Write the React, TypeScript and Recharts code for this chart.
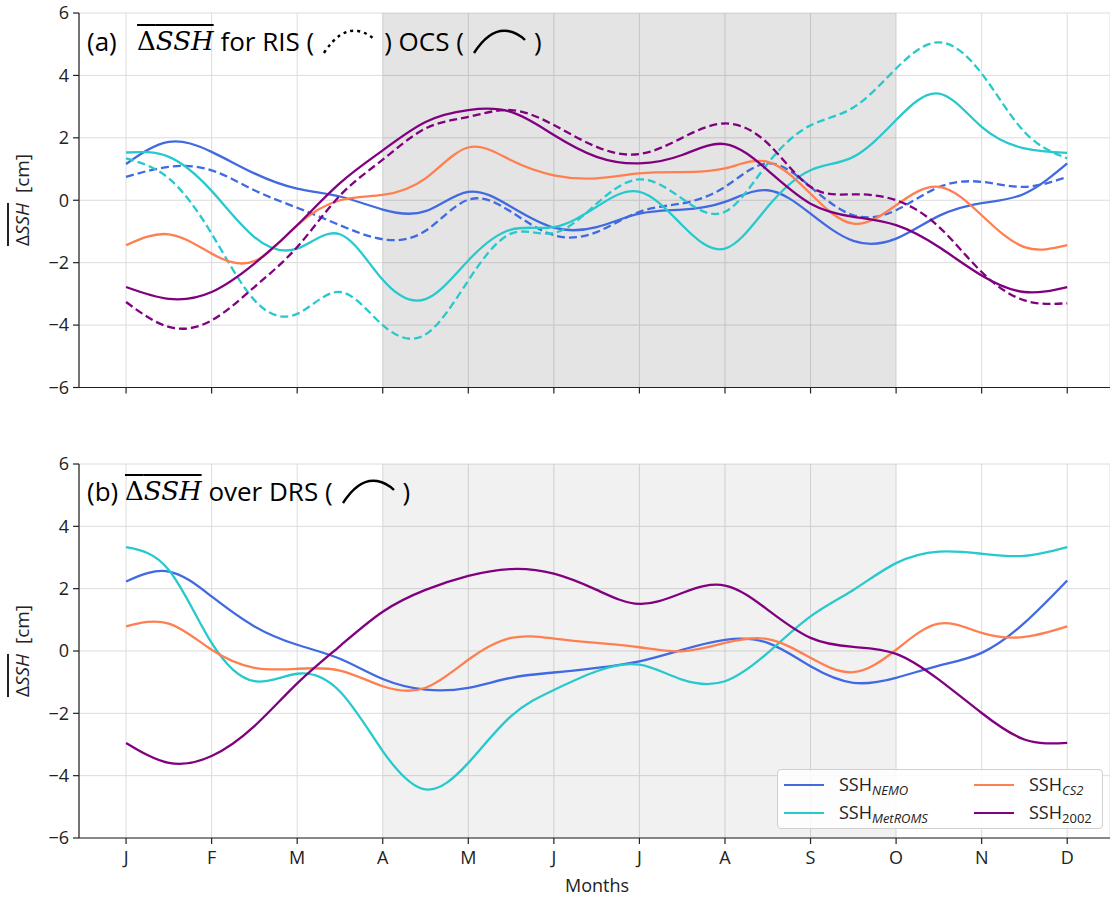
import React from 'react';
import { LineChart, Line, XAxis, YAxis, CartesianGrid, ReferenceArea } from 'recharts';

const months = ['J', 'F', 'M', 'A', 'M', 'J', 'J', 'A', 'S', 'O', 'N', 'D'];
const monthTicks = [0, 1, 2, 3, 4, 5, 6, 7, 8, 9, 10, 11];
const yTicks = [-6, -4, -2, 0, 2, 4, 6];
// sample positions, in months from January
const steps = [0, 0.5, 1, 1.5, 2, 2.5, 3, 3.5, 4, 4.5, 5, 5.5, 6, 6.5, 7, 7.5, 8, 8.5, 9, 9.5, 10, 10.5, 11];

// panel (a): OCS (solid) and RIS (dashed)
const nemoOcs = [1.16, 1.87, 1.55, 0.86, 0.37, 0.12, -0.3, -0.35, 0.27, -0.21, -0.88, -0.86, -0.43, -0.3, -0.05, 0.32, -0.43, -1.3, -1.23, -0.5, -0.09, 0.21, 1.18];
const nemoRis = [0.75, 1.07, 0.96, 0.32, -0.24, -0.8, -1.25, -0.98, 0.02, -0.37, -1.12, -1.02, -0.37, -0.1, 0.43, 1.18, 0.43, -0.48, -0.32, 0.42, 0.59, 0.43, 0.75];
const metromsOcs = [1.53, 1.39, 0.3, -1.18, -1.55, -1.09, -2.55, -3.17, -1.93, -0.94, -0.86, -0.21, 0.27, -0.8, -1.55, -0.21, 0.96, 1.39, 2.57, 3.42, 2.35, 1.66, 1.52];
const metromsRis = [1.34, 0.7, -1.07, -3.2, -3.64, -2.94, -4.0, -4.3, -2.57, -1.07, -1.05, -0.11, 0.67, 0.05, -0.37, 1.18, 2.4, 2.97, 4.22, 5.06, 4.06, 2.19, 1.34];
const cs2Ocs = [-1.44, -1.09, -1.71, -1.95, -0.8, 0.0, 0.17, 0.7, 1.69, 1.28, 0.8, 0.7, 0.86, 0.9, 1.02, 1.23, 0.21, -0.75, -0.16, 0.43, -0.48, -1.5, -1.44];
const y2002Ocs = [-2.78, -3.16, -2.94, -2.03, -0.8, 0.55, 1.6, 2.51, 2.89, 2.83, 2.09, 1.39, 1.18, 1.45, 1.8, 0.96, -0.11, -0.53, -0.8, -1.5, -2.41, -2.94, -2.78];
const y2002Ris = [-3.26, -4.06, -3.85, -2.78, -1.5, 0.15, 1.3, 2.3, 2.67, 2.89, 2.41, 1.71, 1.48, 2.0, 2.46, 1.82, 0.43, 0.19, 0.0, -0.85, -2.3, -3.21, -3.3];

// panel (b): DRS
const nemoDrs = [2.23, 2.55, 1.75, 0.79, 0.2, -0.25, -0.9, -1.24, -1.18, -0.86, -0.69, -0.54, -0.33, 0.04, 0.36, 0.26, -0.49, -1.02, -0.86, -0.47, -0.06, 0.9, 2.26];
const metromsDrs = [3.33, 2.6, 0.26, -0.97, -0.73, -1.3, -3.21, -4.44, -3.59, -2.09, -1.25, -0.65, -0.44, -0.92, -0.97, -0.06, 1.11, 1.96, 2.82, 3.19, 3.12, 3.05, 3.33];
const cs2Drs = [0.79, 0.88, 0.04, -0.54, -0.57, -0.63, -1.13, -1.18, -0.28, 0.42, 0.4, 0.26, 0.12, -0.01, 0.26, 0.38, -0.22, -0.68, 0.04, 0.88, 0.58, 0.45, 0.79];
const y2002Drs = [-2.95, -3.59, -3.37, -2.41, -1.04, 0.16, 1.26, 1.96, 2.41, 2.63, 2.48, 1.96, 1.51, 1.86, 2.1, 1.32, 0.42, 0.13, -0.09, -0.92, -1.99, -2.84, -2.95];

const C_NEMO = '#4169E1';
const C_MET = '#27C9CD';
const C_CS2 = '#FF7F50';
const C_2002 = '#800080';
const FONT = '"Open Sans", "DejaVu Sans", sans-serif';
const AX = '#222';

const topRows = steps.map((m, i) => ({
  m,
  nemoOcs: nemoOcs[i],
  nemoRis: nemoRis[i],
  metromsOcs: metromsOcs[i],
  metromsRis: metromsRis[i],
  cs2Ocs: cs2Ocs[i],
  y2002Ocs: y2002Ocs[i],
  y2002Ris: y2002Ris[i],
}));

const bottomRows = steps.map((m, i) => ({
  m,
  nemoDrs: nemoDrs[i],
  metromsDrs: metromsDrs[i],
  cs2Drs: cs2Drs[i],
  y2002Drs: y2002Drs[i],
}));

const minus = (v: number) => (v < 0 ? '\u2212' + Math.abs(v) : String(v));

type S = { key: string; color: string; dashed?: boolean };

const topSeries: S[] = [
  { key: 'nemoRis', color: C_NEMO, dashed: true },
  { key: 'nemoOcs', color: C_NEMO },
  { key: 'metromsRis', color: C_MET, dashed: true },
  { key: 'metromsOcs', color: C_MET },
  { key: 'cs2Ocs', color: C_CS2 },
  { key: 'y2002Ris', color: C_2002, dashed: true },
  { key: 'y2002Ocs', color: C_2002 },
];

const bottomSeries: S[] = [
  { key: 'nemoDrs', color: C_NEMO },
  { key: 'metromsDrs', color: C_MET },
  { key: 'cs2Drs', color: C_CS2 },
  { key: 'y2002Drs', color: C_2002 },
];

const tickStyle = { fontSize: 18, fill: AX, fontFamily: FONT };

const Panel = ({ rows, series, shade, labels, height, axisH }: any) => (
  <LineChart width={1110} height={height} data={rows} margin={{ top: 13, right: 0, bottom: 0, left: 0 }}>
    <CartesianGrid stroke="#dcdcdc" strokeWidth={1} />
    <ReferenceArea x1={3} x2={9} y1={-6} y2={6} fill="#000" fillOpacity={shade} stroke="none" />
    <XAxis
      type="number"
      dataKey="m"
      domain={[-0.55, 11.5]}
      allowDataOverflow
      ticks={monthTicks}
      tickFormatter={(v) => (labels ? months[v] : '')}
      height={axisH}
      tickSize={6}
      tickMargin={7}
      fontSize={18}
      fontFamily={FONT}
      axisLine={{ stroke: AX, strokeWidth: 1.2 }}
      tickLine={{ stroke: AX, strokeWidth: 1.2 }}
      tick={tickStyle}
    />
    <XAxis
      xAxisId="top"
      orientation="top"
      type="number"
      domain={[-0.55, 11.5]}
      allowDataOverflow
      height={0}
      tick={false}
      tickLine={false}
      axisLine={{ stroke: AX, strokeWidth: 1.2 }}
    />
    <YAxis
      domain={[-6, 6]}
      ticks={yTicks}
      width={79}
      tickFormatter={minus}
      tickSize={6}
      tickMargin={4}
      fontSize={18}
      fontFamily={FONT}
      axisLine={{ stroke: AX, strokeWidth: 1.2 }}
      tickLine={{ stroke: AX, strokeWidth: 1.2 }}
      tick={tickStyle}
    />
    {series.map((s: S) => (
      <Line
        key={s.key}
        type="natural"
        dataKey={s.key}
        stroke={s.color}
        strokeWidth={2.3}
        strokeDasharray={s.dashed ? '8 4' : undefined}
        dot={false}
        activeDot={false}
        isAnimationActive={false}
      />
    ))}
  </LineChart>
);

const Dssh = ({ serif }: { serif?: boolean }) => (
  <span style={{ textDecoration: 'overline', textDecorationThickness: 1.5, fontFamily: serif ? '"DejaVu Serif", serif' : FONT }}>
    Δ<i>SSH</i>
  </span>
);

const Arc = ({ dashed }: { dashed?: boolean }) => (
  <svg width={58} height={30} style={{ verticalAlign: 'middle', margin: '0 6px' }}>
    <path
      d="M4,27 Q20,2 38,5 Q48,7 55,14"
      fill="none"
      stroke="#000"
      strokeWidth={2.4}
      strokeDasharray={dashed ? '3 4' : undefined}
    />
  </svg>
);

const YLabel = ({ cy }: { cy: number }) => (
  <div
    style={{
      position: 'absolute',
      left: 22,
      top: cy,
      transform: 'translate(-50%, -50%) rotate(-90deg)',
      fontSize: 19,
      fontFamily: FONT,
      color: AX,
      whiteSpace: 'nowrap',
    }}
  >
    <Dssh />
    &nbsp;&nbsp;[cm]
  </div>
);

const legendItems = [
  { name: 'NEMO', color: C_NEMO },
  { name: 'CS2', color: C_CS2 },
  { name: 'MetROMS', color: C_MET },
  { name: '2002', color: C_2002, plain: true },
];

const Legend = () => (
  <div
    style={{
      position: 'absolute',
      left: 777,
      top: 769,
      width: 326,
      height: 60,
      border: '1px solid #d0d0d0',
      borderRadius: 4,
      background: 'rgba(255,255,255,0.85)',
      display: 'grid',
      gridTemplateColumns: '190px 134px',
      alignContent: 'center',
      rowGap: 1,
      fontFamily: FONT,
      fontSize: 18,
      color: AX,
      boxSizing: 'border-box',
    }}
  >
    {legendItems.map((it) => (
      <div key={it.name} style={{ display: 'flex', alignItems: 'center', height: 27 }}>
        <div style={{ width: 40, height: 2.6, background: it.color, marginLeft: 6, marginRight: 15, flex: 'none' }} />
        <span style={{ whiteSpace: 'nowrap' }}>
          SSH
          <sub style={{ fontSize: 13, fontStyle: it.plain ? 'normal' : 'italic', verticalAlign: '-4px' }}>{it.name}</sub>
        </span>
      </div>
    ))}
  </div>
);

const titleStyle: React.CSSProperties = {
  position: 'absolute',
  left: 87,
  fontSize: 26,
  fontFamily: FONT,
  color: '#000',
  whiteSpace: 'nowrap',
  display: 'flex',
  alignItems: 'center',
  height: 34,
};

export default function App() {
  return (
    <div style={{ position: 'absolute', left: 0, top: 0, width: 1110, height: 898, background: '#fff', overflow: 'hidden' }}>
      <div style={{ position: 'absolute', left: 0, top: 0 }}>
        <Panel rows={topRows} series={topSeries} shade={0.105} labels={false} height={400} axisH={12.5} />
      </div>
      <div style={{ position: 'absolute', left: 0, top: 451 }}>
        <Panel rows={bottomRows} series={bottomSeries} shade={0.055} labels={true} height={435} axisH={48} />
      </div>
      <YLabel cy={200} />
      <YLabel cy={651} />
      <div style={{ ...titleStyle, top: 24 }}>
        (a)&nbsp;&nbsp;&nbsp;<Dssh serif />&nbsp;for RIS (<Arc dashed />) OCS (<Arc />)
      </div>
      <div style={{ ...titleStyle, top: 474 }}>
        (b)&nbsp;<Dssh serif />&nbsp;over DRS (<Arc />)
      </div>
      <div style={{ position: 'absolute', left: 597, top: 885, transform: 'translate(-50%, -50%)', fontSize: 18, fontFamily: FONT, color: AX }}>
        Months
      </div>
      <Legend />
    </div>
  );
}
